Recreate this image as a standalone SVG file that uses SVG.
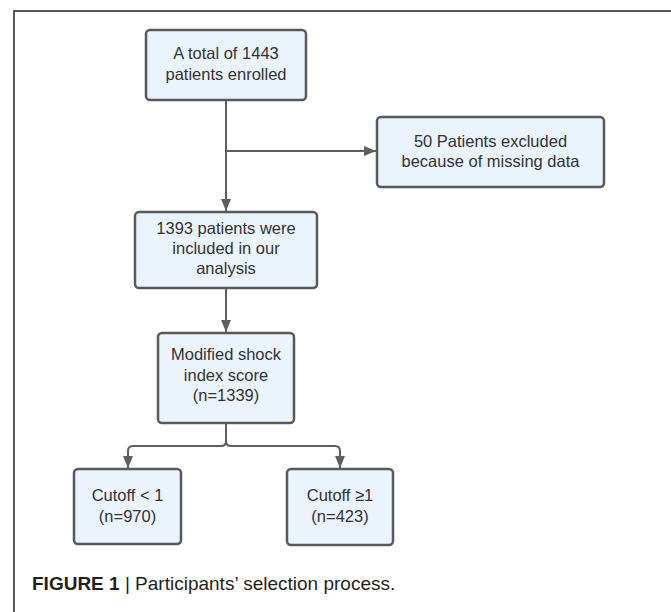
<svg xmlns="http://www.w3.org/2000/svg" width="671" height="612" viewBox="0 0 671 612">
  <style>
    .box { fill: #EBF3FC; stroke: #595959; stroke-width: 2.5; }
    .t { font-family: "Liberation Sans", Arial, sans-serif; font-size: 16.5px; fill: #333333; text-anchor: middle; }
    .conn { fill: none; stroke: #5E5E5E; stroke-width: 2; }
    .cap { font-family: "Liberation Sans", Arial, sans-serif; font-size: 19px; fill: #231F20; }
  </style>
  <defs>
    <marker id="arrow" markerUnits="userSpaceOnUse" markerWidth="12" markerHeight="10" refX="12" refY="5" orient="auto">
      <path d="M0,0 L12,5 L0,10 z" fill="#5E5E5E"/>
    </marker>
  </defs>
  <rect x="0" y="0" width="671" height="612" fill="#FFFFFF"/>
  <path d="M14 612 V11 H671" fill="none" stroke="#222222" stroke-width="1.5"/>

  <g id="connectors">
    <path class="conn" d="M226 100 V211" marker-end="url(#arrow)"/>
    <path class="conn" d="M226 151 H376" marker-end="url(#arrow)"/>
    <path class="conn" d="M226 288 V332" marker-end="url(#arrow)"/>
    <path class="conn" d="M226 423 V441 Q226 446 221 446 H133 Q128 446 128 451 V468" marker-end="url(#arrow)"/>
    <path class="conn" d="M226 441 Q226 446 231 446 H335 Q340 446 340 451 V468" marker-end="url(#arrow)"/>
  </g>

  <g id="enrolled">
    <rect class="box" x="146" y="30" width="160" height="70" rx="4"/>
    <text class="t" x="226" y="59">A total of 1443</text>
    <text class="t" x="226" y="80">patients enrolled</text>
  </g>

  <g id="excluded">
    <rect class="box" x="377" y="117" width="227" height="70" rx="4"/>
    <text class="t" x="490.5" y="147">50 Patients excluded</text>
    <text class="t" x="490.5" y="167">because of missing data</text>
  </g>

  <g id="included">
    <rect class="box" x="135" y="212" width="182" height="76" rx="4"/>
    <text class="t" x="226" y="234">1393 patients were</text>
    <text class="t" x="226" y="254">included in our</text>
    <text class="t" x="226" y="273.5">analysis</text>
  </g>

  <g id="msi">
    <rect class="box" x="158" y="333" width="136" height="90" rx="4"/>
    <text class="t" x="226" y="360">Modified shock</text>
    <text class="t" x="226" y="380.5">index score</text>
    <text class="t" x="226" y="401">(n=1339)</text>
  </g>

  <g id="cutoff-low">
    <rect class="box" x="74" y="469" width="107" height="75" rx="4"/>
    <text class="t" x="127.5" y="501">Cutoff &lt; 1</text>
    <text class="t" x="127.5" y="522">(n=970)</text>
  </g>

  <g id="cutoff-high">
    <rect class="box" x="287" y="469" width="106" height="76" rx="4"/>
    <text class="t" x="340" y="501">Cutoff ≥1</text>
    <text class="t" x="340" y="522">(n=423)</text>
  </g>

  <text class="cap" x="32" y="590"><tspan font-weight="bold">FIGURE 1</tspan> | Participants’ selection process.</text>
</svg>
